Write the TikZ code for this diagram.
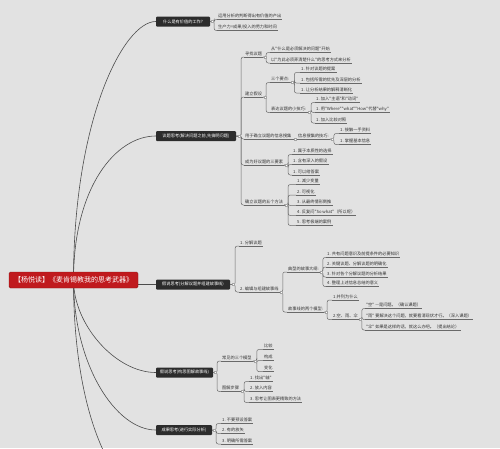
\documentclass[tikz,border=0pt]{standalone}
\usepackage{fontspec}
\setmainfont{Noto Sans CJK SC}
\newfontfamily\cjkplain{Noto Sans CJK SC}
\usetikzlibrary{backgrounds}
\definecolor{paper}{RGB}{226,226,226}
\definecolor{titlered}{RGB}{192,26,30}
\definecolor{boxdark}{RGB}{44,44,44}
\definecolor{wire}{RGB}{105,105,105}
\begin{document}
\begin{tikzpicture}[x=1pt, y=-1pt,
    root/.style={fill=titlered, draw=titlered!75!black, rounded corners=1.5pt, text=white,
      font=\cjkplain\fontsize{7}{8}\selectfont, minimum width=129pt, minimum height=16pt, inner sep=1pt},
    topic/.style={fill=boxdark, rounded corners=1pt, text=white,
      font=\cjkplain\fontsize{4.2}{5}\selectfont, inner xsep=3pt, inner ysep=1pt, minimum height=10pt},
    leaf/.style={anchor=south west, inner xsep=1pt, inner ysep=1.2pt,
      font=\cjkplain\fontsize{4.2}{5}\selectfont, text=black!80},
    uline/.style={draw=wire, line width=0.6pt},
    link/.style={draw=wire, line width=0.5pt, rounded corners=2pt},
    knob/.style={fill=white, draw=wire!60, line width=0.2pt},
    curve/.style={draw=black!70, line width=0.6pt}]
    \useasboundingbox (0,0) rectangle (500,448);

    % central title
    \node[root] (root) at (73.5,280) {【杨悦读】《麦肯锡教我的思考武器》};

    % main branches
    \node[topic, minimum width=54pt] (b1) at (183,21.5) {什么是有价值的工作?};
    \node[topic, minimum width=80pt] (b2) at (196,136) {议题思考(解决问题之前,先搞明问题)};
    \node[topic, minimum width=74pt] (b3) at (193,284.5) {假说思考(分解议题并组建故事线)};
    \node[topic, minimum width=57pt] (b4) at (184.5,372.5) {假说思考(构思图解故事线)};
    \node[topic, minimum width=56pt] (b5) at (184,430) {成果思考(进行实际分析)};
    \coordinate (b6) at (156,500);

    % branch 1
    \node[leaf] (c11) at (217,19.5) {运用分析的判断得出有价值的产出};
    \node[leaf] (c12) at (217,30.5) {生产力=成果/投入的劳力和时间};

    % branch 2
    \node[leaf] (d1) at (244,57) {寻找议题};
    \node[leaf] (d11) at (270,52.5) {从"什么是必须解决的问题"开始};
    \node[leaf] (d12) at (270,63) {以"为此必须弄清楚什么"的思考方式来分析};
    \node[leaf] (d2) at (244,97) {建立假设};
    \node[leaf] (e1) at (270,82.5) {三个要点:};
    \node[leaf] (e11) at (300,72.5) {1. 针对议题的提案};
    \node[leaf] (e12) at (300,83) {1. 包括所需的优先及深层的分析};
    \node[leaf] (e13) at (300,93) {1. 让分析结果的解释清晰化};
    \node[leaf] (e2) at (270,112.5) {表达议题的小技巧:};
    \node[leaf] (e21) at (315,102.5) {1. 加入"主语"和"动词"};
    \node[leaf] (e22) at (315,112.5) {1. 用"Where""what""How"代替"why"};
    \node[leaf] (e23) at (315,123) {1. 加入比较对照};
    \node[leaf] (d3) at (244,139) {用于确立议题的信息搜集};
    \node[leaf] (f1) at (297,139) {信息搜集的技巧:};
    \node[leaf] (f11) at (339,133.5) {1. 接触一手资料};
    \node[leaf] (f12) at (339,144.5) {1. 掌握基本信息};
    \node[leaf] (d4) at (244,165) {成为好议题的三要素};
    \node[leaf] (g1) at (292,154.5) {1. 属于本质性的选择};
    \node[leaf] (g2) at (292,164.5) {1. 含有深入的假设};
    \node[leaf] (g3) at (292,175) {1. 可以给答案};
    \node[leaf] (d5) at (244,205) {确立议题的五个方法};
    \node[leaf] (h1) at (296,184.5) {1. 减少变量};
    \node[leaf] (h2) at (296,195) {2. 可视化};
    \node[leaf] (h3) at (296,205.5) {3. 从最终情形倒推};
    \node[leaf] (h4) at (296,215.5) {4. 反复问"So what"（所以呢）};
    \node[leaf] (h5) at (296,225.5) {5. 思考极端的案例};

    % branch 3
    \node[leaf] (i1) at (239,246) {1. 分解议题};
    \node[leaf] (i2) at (239,292) {2. 编辑与组建故事线};
    \node[leaf] (j1) at (287,272) {典型的故事大纲:};
    \node[leaf] (j11) at (326,257.5) {1. 共有问题意识及前提条件的必要知识};
    \node[leaf] (j12) at (326,267) {2. 关键议题、分解议题的明确化};
    \node[leaf] (j13) at (326,277) {3. 针对各个分解议题的分析结果};
    \node[leaf] (j14) at (326,286.5) {4. 整理上述信息总结的意义};
    \node[leaf] (j2) at (287,312) {故事线的两个模型:};
    \node[leaf] (k1) at (332,300) {1.并列为什么};
    \node[leaf] (k2) at (332,319.5) {2.空、雨、伞};
    \node[leaf] (l1) at (365,308.5) {"空" —是问题。（确认课题）};
    \node[leaf] (l2) at (365,319.5) {"雨" 要解决这个问题，就要看清现状才行。（深入课题）};
    \node[leaf] (l3) at (365,330) {"伞" 如果是这样的话，就这么办吧。（提出结论）};

    % branch 4
    \node[leaf] (m1) at (221,361) {常见的三个模型};
    \node[leaf] (m11) at (263,349.5) {比较};
    \node[leaf] (m12) at (263,360.5) {构成};
    \node[leaf] (m13) at (263,371.5) {变化};
    \node[leaf] (m2) at (221,391.5) {图解步骤};
    \node[leaf] (m21) at (249,381.5) {1. 找出"轴"};
    \node[leaf] (m22) at (249,391.5) {2. 放入内容};
    \node[leaf] (m23) at (249,402.5) {3. 思考让图表更精致的方法};

    % branch 5
    \node[leaf] (n1) at (221,423.5) {1. 不要预设答案};
    \node[leaf] (n2) at (221,433.5) {2. 有的放矢};
    \node[leaf] (n3) at (221,444) {3. 明确所需答案};

    % underlines
    \foreach \n in {c11,c12,d1,d11,d12,d2,e1,e11,e12,e13,e2,e21,e22,e23,d3,f1,f11,f12,
        d4,g1,g2,g3,d5,h1,h2,h3,h4,h5,i1,i2,j1,j11,j12,j13,j14,j2,k1,k2,l1,l2,l3,
        m1,m11,m12,m13,m2,m21,m22,m23,n1,n2,n3}
      \draw[uline] (\n.south west) -- (\n.south east);

    % brackets
    \foreach \c in {c11,c12} \draw[link] (b1.east) -- ++(4,0) |- (\c.south west);
    \foreach \c in {d1,d2,d3,d4,d5} \draw[link] (b2.east) -- ++(5,0) |- (\c.south west);
    \foreach \c in {d11,d12} \draw[link] (d1.south east) -- ++(3,0) |- (\c.south west);
    \foreach \c in {e1,e2} \draw[link] (d2.south east) -- ++(3,0) |- (\c.south west);
    \foreach \c in {e11,e12,e13} \draw[link] (e1.south east) -- ++(4,0) |- (\c.south west);
    \foreach \c in {e21,e22,e23} \draw[link] (e2.south east) -- ++(4,0) |- (\c.south west);
    \draw[link] (d3.south east) -- (f1.south west);
    \foreach \c in {f11,f12} \draw[link] (f1.south east) -- ++(4,0) |- (\c.south west);
    \foreach \c in {g1,g2,g3} \draw[link] (d4.south east) -- ++(4,0) |- (\c.south west);
    \foreach \c in {h1,h2,h3,h4,h5} \draw[link] (d5.south east) -- ++(4,0) |- (\c.south west);
    \foreach \c in {i1,i2} \draw[link] (b3.east) -- ++(5,0) |- (\c.south west);
    \foreach \c in {j1,j2} \draw[link] (i2.south east) -- ++(3,0) |- (\c.south west);
    \foreach \c in {j11,j12,j13,j14} \draw[link] (j1.south east) -- ++(3,0) |- (\c.south west);
    \foreach \c in {k1,k2} \draw[link] (j2.south east) -- ++(3,0) |- (\c.south west);
    \foreach \c in {l1,l2,l3} \draw[link] (k2.south east) -- ++(3,0) |- (\c.south west);
    \foreach \c in {m1,m2} \draw[link] (b4.east) -- ++(4,0) |- (\c.south west);
    \foreach \c in {m11,m12,m13} \draw[link] (m1.south east) -- ++(4,0) |- (\c.south west);
    \foreach \c in {m21,m22,m23} \draw[link] (m2.south east) -- ++(4,0) |- (\c.south west);
    \foreach \c in {n1,n2,n3} \draw[link] (b5.east) -- ++(4,0) |- (\c.south west);

    % collapse markers
    \foreach \p/\d in {b1/2,b2/2.5,b3/2.5,b4/2,b5/2}
      \draw[knob] ([xshift=\d pt]\p.east) +(-1,-1) rectangle +(1,1);
    \foreach \p/\d in {d1/1.5,d2/1.5,e1/2,e2/2,d3/2,f1/2,d4/2,d5/2,i2/1.5,j1/1.5,j2/1.5,k2/1.5,m1/2,m2/2}
      \draw[knob] ([xshift=\d pt]\p.south east) +(-1,-1) rectangle +(1,1);

    \begin{scope}[on background layer]
      \fill[paper] (0,0) rectangle (500,448);
      \draw[curve] (root.center) .. controls +(0,-161) and +(-32,0) .. (b1.west);
      \draw[curve] (root.center) .. controls +(0,-93) and +(-40,0) .. (b2.west);
      \draw[curve] (b3.west -| root.east) -- (b3.west);
      \draw[curve] (root.center) .. controls +(0,45) and +(-40,0) .. (b4.west);
      \draw[curve] (root.center) .. controls +(0,85) and +(-40,0) .. (b5.west);
      \draw[curve] (root.center) .. controls +(0,140) and +(-40,0) .. (b6);
    \end{scope}
\end{tikzpicture}
\end{document}
